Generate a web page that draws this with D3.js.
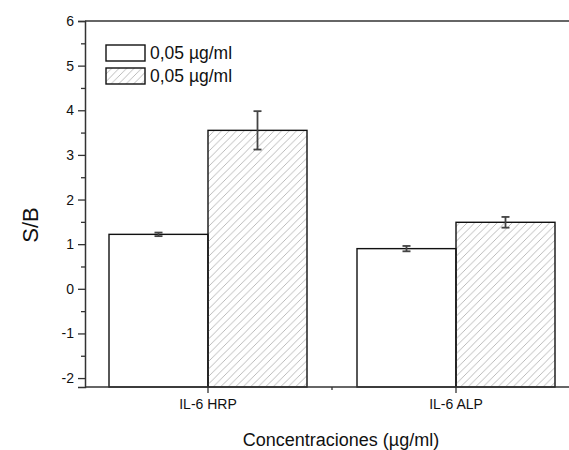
<!DOCTYPE html>
<html><head><meta charset="utf-8">
<script src="https://cdn.jsdelivr.net/npm/d3@7/dist/d3.min.js"></script>
<style>body{margin:0;background:#fff}svg{display:block}text{font-family:Arial,"Liberation Sans",sans-serif}</style>
</head><body>
<script>
const categories = ["IL-6 HRP", "IL-6 ALP"];
const seriesNames = ["0,05 \u00b5g/ml", "0,05 \u00b5g/ml"];
const seriesKeys = ["s1", "s2"];
const values1 = [1.22, 0.90];
const values2 = [3.55, 1.49];
const errors1 = [0.04, 0.06];
const errors2 = [0.43, 0.12];
const yTicks = [-2, -1, 0, 1, 2, 3, 4, 5, 6];
const yMinorTicks = [-1.5, -0.5, 0.5, 1.5, 2.5, 3.5, 4.5, 5.5];

const W = 569, H = 450;
const svg = d3.select("body").append("svg").attr("width", W).attr("height", H);

const defs = svg.append("defs");
const pat = defs.append("pattern").attr("id", "hatch").attr("patternUnits", "userSpaceOnUse")
  .attr("width", 7.5).attr("height", 7.5);
pat.append("path").attr("d", "M-1,1 l2,-2 M0,7.5 l7.5,-7.5 M6.5,8.5 l2,-2")
  .attr("stroke", "#aaa").attr("stroke-width", 0.8).attr("fill", "none");

const mLeft = 85, mTop = 21, mBottom = 387, mRight = 580;
const y = d3.scaleLinear().domain([-2.2, 6]).range([mBottom, mTop]);
const x0 = d3.scaleBand().domain(categories).range([84, 580]).padding(0);
const x1 = d3.scaleBand().domain(seriesKeys).range([25, x0.bandwidth() - 25]).padding(0);

const data = categories.map((c, i) => ({
  cat: c,
  bars: [
    {key: "s1", v: values1[i], e: errors1[i]},
    {key: "s2", v: values2[i], e: errors2[i]}
  ]
}));

const axisColor = "#333";

const g = svg.append("g");
data.forEach(d => {
  d.bars.forEach(b => {
    const bx = x0(d.cat) + x1(b.key);
    g.append("rect")
      .attr("x", bx).attr("y", y(b.v))
      .attr("width", x1.bandwidth()).attr("height", y(-2.2) - y(b.v))
      .attr("fill", b.key === "s1" ? "#fff" : "url(#hatch)")
      .attr("stroke", "#111").attr("stroke-width", 1.4);
  });
});
data.forEach(d => {
  d.bars.forEach(b => {
    const cx = x0(d.cat) + x1(b.key) + x1.bandwidth() / 2;
    const eg = g.append("g").attr("stroke", "#444").attr("stroke-width", 1.8);
    eg.append("line").attr("x1", cx).attr("x2", cx).attr("y1", y(b.v + b.e)).attr("y2", y(b.v - b.e));
    eg.append("line").attr("x1", cx - 4).attr("x2", cx + 4).attr("y1", y(b.v + b.e)).attr("y2", y(b.v + b.e));
    eg.append("line").attr("x1", cx - 4).attr("x2", cx + 4).attr("y1", y(b.v - b.e)).attr("y2", y(b.v - b.e));
  });
});

const yAxis = d3.axisLeft(y).tickValues(yTicks).tickSize(7).tickPadding(4).tickFormat(d3.format("d"));
const ya = svg.append("g").attr("transform", `translate(${mLeft},0)`).call(yAxis);
ya.select(".domain").attr("stroke", axisColor).attr("stroke-width", 1.5);
ya.selectAll(".tick line").attr("stroke", axisColor).attr("stroke-width", 1.3);
ya.selectAll(".tick text").attr("font-size", 14).attr("fill", "#111")
  .text(d => d < 0 ? "-" + Math.abs(d) : d);
const yMinor = d3.axisLeft(y).tickValues(yMinorTicks).tickSize(4).tickFormat("");
const ym = svg.append("g").attr("transform", `translate(${mLeft},0)`).call(yMinor);
ym.select(".domain").remove();
ym.selectAll(".tick line").attr("stroke", axisColor).attr("stroke-width", 1.3);

const xAxis = d3.axisBottom(x0).tickSize(6).tickPadding(6);
const xa = svg.append("g").attr("transform", `translate(0,${mBottom})`).call(xAxis);
xa.select(".domain").attr("d", `M${mLeft},0H${mRight}`).attr("stroke", axisColor).attr("stroke-width", 1.5);
xa.selectAll(".tick line").attr("stroke", axisColor).attr("stroke-width", 1.3);
xa.selectAll(".tick text").attr("font-size", 14).attr("fill", "#111");
svg.append("line").attr("x1", x0(categories[1])).attr("x2", x0(categories[1]))
  .attr("y1", mBottom).attr("y2", mBottom + 3).attr("stroke", axisColor).attr("stroke-width", 1.3);

svg.append("line").attr("x1", mLeft).attr("x2", mRight).attr("y1", mTop).attr("y2", mTop)
  .attr("stroke", axisColor).attr("stroke-width", 1.5);

svg.append("text").attr("x", 341).attr("y", 446).attr("text-anchor", "middle")
  .attr("font-size", 18).attr("fill", "#111").text("Concentraciones (\u00b5g/ml)");
svg.append("text").attr("transform", "translate(38,225) rotate(-90)").attr("text-anchor", "middle")
  .attr("font-size", 22).attr("fill", "#111").text("S/B");

const lg = svg.append("g");
seriesNames.forEach((n, i) => {
  const ly = 45 + i * 23;
  lg.append("rect").attr("x", 106).attr("y", ly).attr("width", 39).attr("height", 16)
    .attr("fill", i === 0 ? "#fff" : "url(#hatch)").attr("stroke", "#111").attr("stroke-width", 1.4);
  lg.append("text").attr("x", 150).attr("y", ly + 14).attr("font-size", 17.5).attr("fill", "#111").text(n);
});
</script>
</body></html>
